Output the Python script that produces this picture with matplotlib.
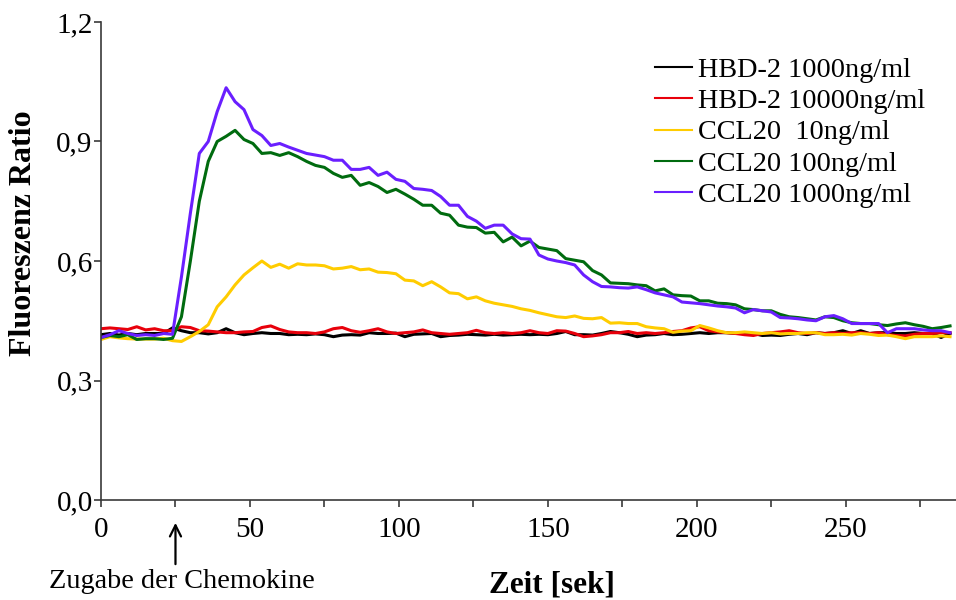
import numpy as np
import matplotlib
matplotlib.use("Agg")
import matplotlib.pyplot as plt
from matplotlib.ticker import MultipleLocator, FuncFormatter

# Sampling grid of the calcium-flux measurement (seconds)
time_s = np.arange(0, 288, 3)

hbd2_1000 = [
    0.415, 0.418, 0.414, 0.418, 0.415, 0.418, 0.418, 0.418, 0.432, 0.425,
    0.420, 0.420, 0.417, 0.420, 0.430, 0.420, 0.415, 0.418, 0.420, 0.418,
    0.418, 0.415, 0.416, 0.415, 0.417, 0.415, 0.410, 0.414, 0.415, 0.414,
    0.420, 0.418, 0.418, 0.419, 0.410, 0.416, 0.417, 0.418, 0.410, 0.413,
    0.414, 0.416, 0.415, 0.414, 0.416, 0.414, 0.415, 0.416, 0.415, 0.416,
    0.415, 0.418, 0.423, 0.415, 0.415, 0.414, 0.418, 0.423, 0.420, 0.416,
    0.410, 0.414, 0.415, 0.418, 0.415, 0.416, 0.418, 0.420, 0.418, 0.420,
    0.420, 0.418, 0.420, 0.418, 0.413, 0.414, 0.413, 0.416, 0.418, 0.415,
    0.420, 0.418, 0.420, 0.425, 0.418, 0.425, 0.418, 0.420, 0.420, 0.418,
    0.418, 0.420, 0.418, 0.418, 0.408, 0.418,
]

hbd2_10000 = [
    0.430, 0.432, 0.430, 0.428, 0.435, 0.427, 0.430, 0.425, 0.425, 0.435,
    0.433, 0.425, 0.424, 0.422, 0.420, 0.420, 0.422, 0.423, 0.433, 0.437,
    0.428, 0.422, 0.420, 0.420, 0.418, 0.422, 0.430, 0.433, 0.425, 0.421,
    0.425, 0.430, 0.422, 0.418, 0.420, 0.422, 0.427, 0.420, 0.418, 0.416,
    0.418, 0.420, 0.426, 0.420, 0.418, 0.420, 0.418, 0.420, 0.425, 0.420,
    0.418, 0.425, 0.424, 0.418, 0.410, 0.412, 0.415, 0.420, 0.420, 0.423,
    0.418, 0.420, 0.418, 0.420, 0.423, 0.425, 0.432, 0.435, 0.425, 0.422,
    0.420, 0.418, 0.415, 0.413, 0.418, 0.420, 0.422, 0.425, 0.420, 0.418,
    0.420, 0.418, 0.420, 0.418, 0.420, 0.420, 0.418, 0.420, 0.415, 0.413,
    0.412, 0.416, 0.418, 0.418, 0.420, 0.420,
]

ccl20_10 = [
    0.403, 0.410, 0.407, 0.405, 0.404, 0.404, 0.404, 0.406, 0.400, 0.398,
    0.410, 0.423, 0.440, 0.485, 0.510, 0.540, 0.565, 0.583, 0.600, 0.584,
    0.592, 0.582, 0.593, 0.590, 0.590, 0.588, 0.580, 0.582, 0.586, 0.578,
    0.580, 0.572, 0.571, 0.568, 0.552, 0.550, 0.538, 0.548, 0.535, 0.520,
    0.518, 0.505, 0.510, 0.500, 0.494, 0.490, 0.486, 0.480, 0.476, 0.470,
    0.465, 0.460, 0.458, 0.462, 0.456, 0.455, 0.458, 0.444, 0.445, 0.443,
    0.443, 0.435, 0.432, 0.430, 0.421, 0.424, 0.425, 0.438, 0.432, 0.425,
    0.420, 0.420, 0.422, 0.420, 0.418, 0.420, 0.417, 0.418, 0.418, 0.420,
    0.420, 0.415, 0.415, 0.416, 0.414, 0.418, 0.416, 0.413, 0.414, 0.410,
    0.405, 0.410, 0.410, 0.410, 0.412, 0.410,
]

ccl20_100 = [
    0.408, 0.413, 0.410, 0.415, 0.403, 0.405, 0.405, 0.403, 0.406, 0.460,
    0.600, 0.750, 0.850, 0.900, 0.913, 0.928, 0.905, 0.895, 0.870, 0.872,
    0.865, 0.872, 0.862, 0.850, 0.840, 0.835, 0.820, 0.810, 0.815, 0.790,
    0.797, 0.787, 0.772, 0.780, 0.768, 0.755, 0.740, 0.740, 0.720, 0.715,
    0.690, 0.685, 0.684, 0.670, 0.672, 0.648, 0.660, 0.638, 0.650, 0.634,
    0.630, 0.626, 0.606, 0.602, 0.598, 0.576, 0.565, 0.545, 0.544, 0.543,
    0.540, 0.538, 0.525, 0.530, 0.515, 0.513, 0.512, 0.500, 0.500, 0.494,
    0.493, 0.490, 0.480, 0.478, 0.475, 0.475, 0.466, 0.460, 0.458, 0.455,
    0.452, 0.460, 0.458, 0.450, 0.445, 0.443, 0.443, 0.440, 0.438, 0.442,
    0.445, 0.440, 0.436, 0.430, 0.433, 0.437,
]

ccl20_1000 = [
    0.408, 0.415, 0.425, 0.418, 0.413, 0.415, 0.413, 0.418, 0.416, 0.560,
    0.720, 0.870, 0.900, 0.975, 1.035, 1.000, 0.980, 0.930, 0.915, 0.890,
    0.895, 0.886, 0.878, 0.870, 0.866, 0.862, 0.853, 0.853, 0.830, 0.830,
    0.835, 0.815, 0.823, 0.805, 0.800, 0.782, 0.780, 0.777, 0.762, 0.740,
    0.740, 0.712, 0.700, 0.682, 0.690, 0.690, 0.668, 0.656, 0.655, 0.615,
    0.605, 0.600, 0.596, 0.590, 0.565, 0.548, 0.536, 0.535, 0.533, 0.532,
    0.535, 0.528, 0.520, 0.515, 0.510, 0.497, 0.495, 0.493, 0.490, 0.487,
    0.485, 0.482, 0.470, 0.478, 0.475, 0.472, 0.458, 0.457, 0.455, 0.452,
    0.450, 0.460, 0.463, 0.455, 0.443, 0.443, 0.443, 0.443, 0.420, 0.430,
    0.430, 0.430, 0.427, 0.425, 0.425, 0.420,
]

series_labels = [
    "HBD-2 1000ng/ml",
    "HBD-2 10000ng/ml",
    "CCL20  10ng/ml",
    "CCL20 100ng/ml",
    "CCL20 1000ng/ml",
]
series_values = [hbd2_1000, hbd2_10000, ccl20_10, ccl20_100, ccl20_1000]
series_colors = ["#000000", "#e8000b", "#ffcc00", "#006b0f", "#6a1fff"]

y_ticks = [0.0, 0.3, 0.6, 0.9, 1.2]
x_major = [0, 50, 100, 150, 200, 250]
addition_time = 25

plt.rcParams["font.family"] = ["Liberation Serif", "DejaVu Serif"]

fig = plt.figure(figsize=(9.56, 6.0), dpi=100)
ax = fig.add_axes([101 / 956, 1 - 500 / 600, 1 - 101 / 956, 478 / 600])

for vals, lab, col in zip(series_values, series_labels, series_colors):
    ax.plot(time_s, vals, color=col, lw=2.2, label=lab, solid_joinstyle="round")

ax.set_xlim(0, 287)
ax.set_ylim(0, 1.2)
ax.set_yticks(y_ticks)
ax.yaxis.set_major_formatter(FuncFormatter(lambda v, p: f"{v:.1f}".replace(".", ",")))
ax.xaxis.set_major_locator(MultipleLocator(25))
ax.xaxis.set_major_formatter(FuncFormatter(lambda v, p: f"{int(round(v))}" if int(round(v)) in x_major else ""))

for side in ("top", "right"):
    ax.spines[side].set_visible(False)
for side in ("left", "bottom"):
    ax.spines[side].set_color("#3a3a3a")
    ax.spines[side].set_linewidth(1.2)
ax.tick_params(axis="both", direction="out", length=5, width=1.2, color="#3a3a3a",
               labelsize=21, labelcolor="black")
ax.tick_params(axis="x", pad=7)
ax.tick_params(axis="y", pad=1)

fig.text(24 / 956, 1 - 233 / 600, "Fluoreszenz Ratio", fontsize=23, fontweight="bold",
         rotation=90, ha="center", va="center")
fig.text(552 / 956, 1 - 585 / 600, "Zeit [sek]", fontsize=22.5, fontweight="bold",
         ha="center", va="center")

# Marker for the time point of chemokine addition
ax.annotate("", xy=(addition_time, -0.042), xycoords=("data", "axes fraction"),
            xytext=(addition_time, -0.14), textcoords=("data", "axes fraction"),
            arrowprops=dict(arrowstyle="->,head_length=0.8,head_width=0.4", lw=1.6, color="black"),
            annotation_clip=False)
fig.text(182 / 956, 1 - 582 / 600, "Zugabe der Chemokine", fontsize=20.3,
         ha="center", va="center")

ax.legend(loc="upper left", bbox_to_anchor=(655 / 956, 1 - 57 / 600),
          bbox_transform=fig.transFigure, frameon=False, fontsize=20.3,
          handlelength=1.33, handletextpad=0.18, labelspacing=0.2, borderpad=0,
          borderaxespad=0)
for line in ax.get_legend().get_lines():
    line.set_linewidth(1.5)

fig.savefig("out.png", dpi=100)
